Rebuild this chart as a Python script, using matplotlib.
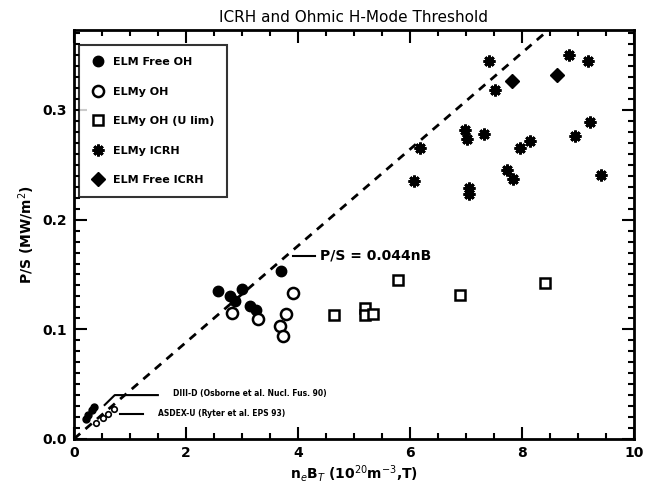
import numpy as np
import matplotlib
matplotlib.use("Agg")
import matplotlib.pyplot as plt
from matplotlib.ticker import MultipleLocator

# data
elmfree_oh_x = [2.57, 2.79, 2.88, 3.0, 3.14, 3.25, 3.70]
elmfree_oh_y = [0.135, 0.130, 0.126, 0.137, 0.121, 0.118, 0.153]

elmy_oh_x = [2.82, 3.29, 3.68, 3.73, 3.79, 3.91]
elmy_oh_y = [0.115, 0.109, 0.103, 0.094, 0.114, 0.133]

elmy_oh_ulim_x = [4.64, 5.20, 5.20, 5.34, 5.79, 6.89, 8.41]
elmy_oh_ulim_y = [0.113, 0.119, 0.113, 0.114, 0.145, 0.131, 0.142]

elmy_icrh_x = [7.42, 8.84, 9.18, 7.52, 9.22, 6.99, 7.02, 7.33, 8.95,
               8.15, 7.97, 6.19, 7.74, 7.84, 9.41, 6.08, 7.06, 7.06]
elmy_icrh_y = [0.345, 0.350, 0.345, 0.318, 0.289, 0.282, 0.274, 0.278, 0.276,
               0.272, 0.265, 0.265, 0.245, 0.237, 0.241, 0.235, 0.229, 0.223]

elmfree_icrh_x = [7.82, 8.63]
elmfree_icrh_y = [0.326, 0.332]

diiid_x = [0.21, 0.25, 0.32, 0.36]
diiid_y = [0.018, 0.022, 0.026, 0.029]

asdex_x = [0.39, 0.52, 0.61, 0.71]
asdex_y = [0.015, 0.019, 0.023, 0.027]

slope = 0.044

fig = plt.figure(figsize=(6.48, 4.91), dpi=100)
ax = fig.add_axes([0.114, 0.106, 0.864, 0.833])

ax.plot(elmfree_oh_x, elmfree_oh_y, 'o', color='black', ms=7.5, label='ELM Free OH')
ax.plot(elmy_oh_x, elmy_oh_y, 'o', mfc='white', mec='black', mew=1.8, ms=8, label='ELMy OH')
ax.plot(elmy_oh_ulim_x, elmy_oh_ulim_y, 's', mfc='white', mec='black', mew=1.8, ms=6.5,
        label='ELMy OH (U lim)')
# asterisk drawn as x + plus on top of a small square
ax.plot(elmy_icrh_x, elmy_icrh_y, 's', color='black', ms=5)
ax.plot(elmy_icrh_x, elmy_icrh_y, marker=(8, 2, 0), ls='none', color='black', mew=2.0, ms=8.5,
        label='ELMy ICRH')
ax.plot(elmfree_icrh_x, elmfree_icrh_y, 'D', color='black', ms=7, label='ELM Free ICRH')

ax.plot(diiid_x, diiid_y, 'o', color='black', ms=5)
ax.plot(asdex_x, asdex_y, 'o', mfc='white', mec='black', mew=1.2, ms=4)

# scaling line
xx = np.linspace(0, 10, 50)
ax.plot(xx, slope * xx, color='black', lw=2, ls=(0, (3, 2.5)))

ax.plot([3.91, 4.30], [0.167, 0.167], color='black', lw=1.5)
ax.text(4.39, 0.167, 'P/S = 0.044nB', fontsize=10, fontweight='bold', va='center')

ax.plot([0.55, 0.73, 1.5], [0.031, 0.040, 0.040], color='black', lw=1.5)
ax.text(1.77, 0.041, 'DIII-D (Osborne et al. Nucl. Fus. 90)', fontsize=5.5,
        fontweight='bold', va='center')
ax.plot([0.82, 1.23], [0.023, 0.023], color='black', lw=1.5)
ax.text(1.5, 0.023, 'ASDEX-U (Ryter et al. EPS 93)', fontsize=5.5,
        fontweight='bold', va='center')

ax.set_xlim(0, 10)
ax.set_ylim(0, 0.373)
ax.xaxis.set_major_locator(MultipleLocator(2))
ax.xaxis.set_minor_locator(MultipleLocator(0.5))
ax.yaxis.set_major_locator(MultipleLocator(0.1))
ax.yaxis.set_minor_locator(MultipleLocator(0.01))
ax.yaxis.set_major_formatter(matplotlib.ticker.FormatStrFormatter('%.1f'))
ax.tick_params(which='both', direction='in', top=True, right=True, width=1.5)
ax.tick_params(which='major', length=9, labelsize=10, pad=5)
ax.tick_params(which='minor', length=4)
for lbl in ax.get_xticklabels() + ax.get_yticklabels():
    lbl.set_fontweight('bold')
for sp in ax.spines.values():
    sp.set_linewidth(2)

ax.set_title('ICRH and Ohmic H-Mode Threshold', fontsize=11, pad=6)
ax.set_xlabel(r'n$_e$B$_T$ (10$^{20}$m$^{-3}$,T)', fontsize=10, fontweight='bold', labelpad=2)
ax.set_ylabel(r'P/S (MW/m$^2$)', fontsize=10, fontweight='bold', labelpad=4)

handles, labels = ax.get_legend_handles_labels()
leg = ax.legend(handles, labels, loc='upper left', bbox_to_anchor=(0.009, 0.963),
                borderaxespad=0, fancybox=False, edgecolor='black', fontsize=8,
                labelspacing=1.75, handletextpad=0.8, borderpad=1.1, handlelength=1.2,
                numpoints=1)
leg.get_frame().set_linewidth(1.5)
for t in leg.get_texts():
    t.set_fontweight('bold')

fig.savefig('out.png', dpi=100)
